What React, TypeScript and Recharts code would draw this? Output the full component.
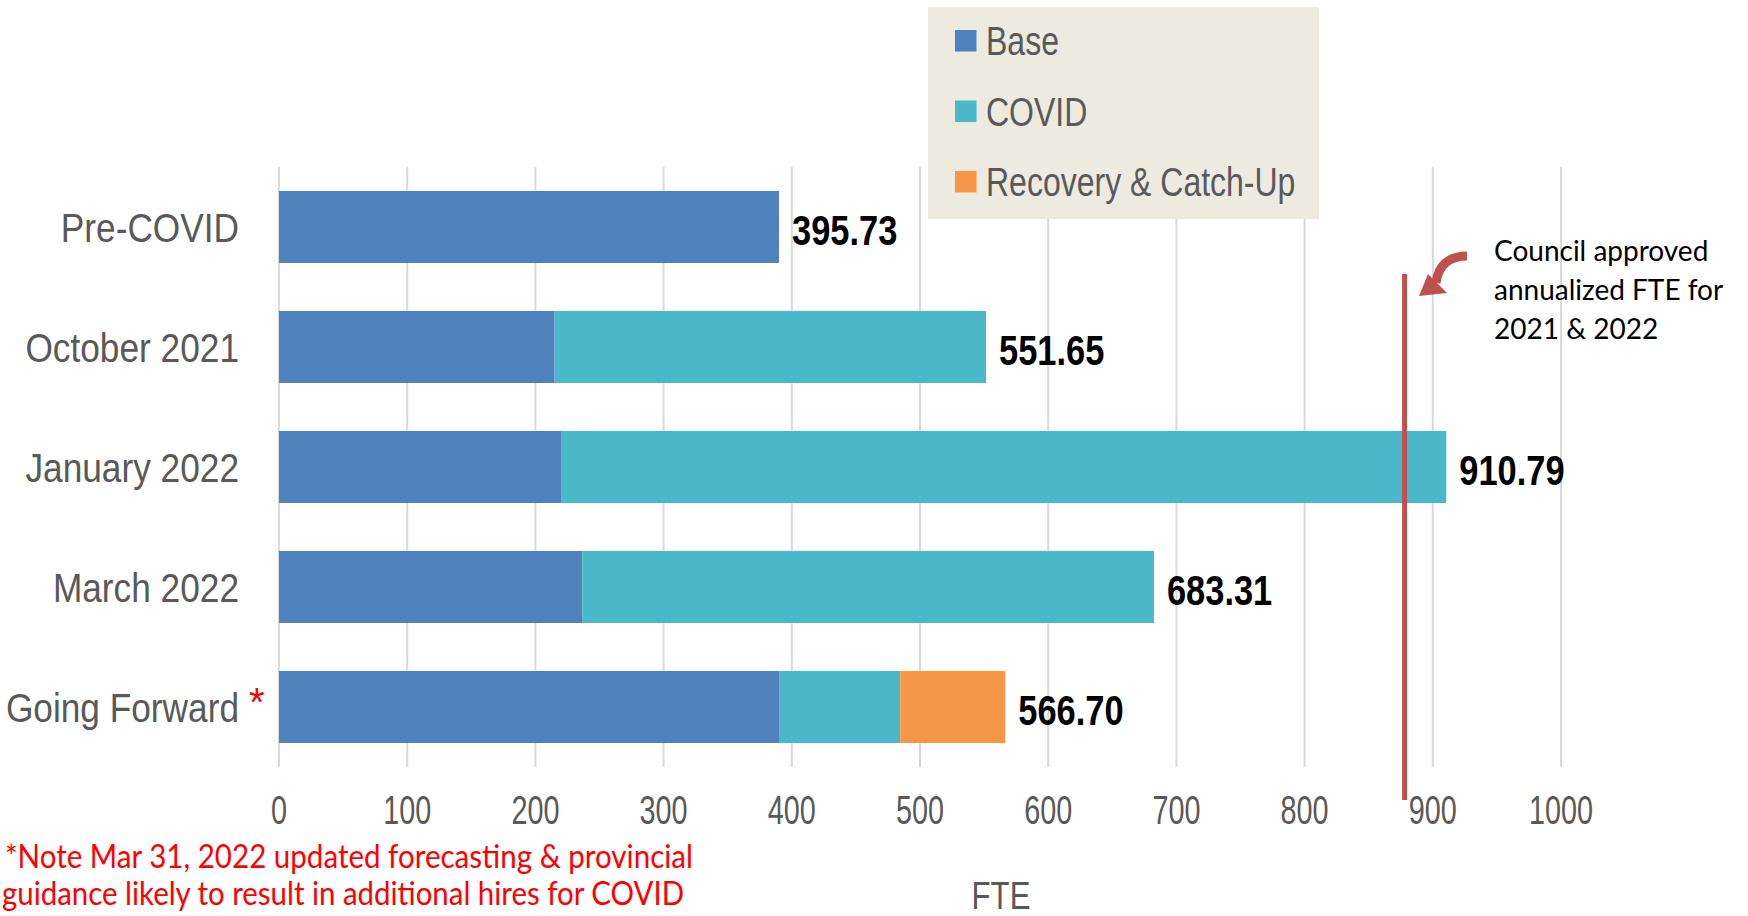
import React from "react";
import { Bar, BarChart, CartesianGrid, LabelList, ReferenceLine, XAxis, YAxis } from "recharts";

const categories = ["Pre-COVID", "October 2021", "January 2022", "March 2022", "Going Forward"];
const baseValues = [390, 215, 220, 236.5, 390];
const covidValues = [0, 336.5, 690.5, 446, 94.5];
const recoveryValues = [0, 0, 0, 0, 82];
const totalLabels = ["395.73", "551.65", "910.79", "683.31", "566.70"];
const xTicks = [0, 100, 200, 300, 400, 500, 600, 700, 800, 900, 1000];
const councilApproved = 878;
const noteLines = [
  "*Note Mar 31, 2022  updated forecasting & provincial",
  "guidance likely to result in additional hires for COVID",
];
const councilLines = ["Council approved", "annualized FTE for", "2021  & 2022"];

const SANS = "'Liberation Sans', Arial, sans-serif";
const CALIBRI = "Lato, 'Open Sans', sans-serif";
const GRAY = "#595959";

const series = [
  { key: "base", name: "Base", color: "#4F81BD" },
  { key: "covid", name: "COVID", color: "#4BB8C9" },
  { key: "recovery", name: "Recovery & Catch-Up", color: "#F79646" },
];

const data = categories.map((c, i) => ({
  name: c,
  base: baseValues[i],
  covid: covidValues[i],
  recovery: recoveryValues[i],
}));

// the series that ends each row carries the total label
const lastKey = data.map((d) => (d.recovery > 0 ? "recovery" : d.covid > 0 ? "covid" : "base"));

function totalLabel(key: string) {
  return (props: any) => {
    const { x, y, width, height, value } = props;
    const i = categories.indexOf(value);
    if (i < 0 || lastKey[i] !== key) return null;
    const tx = Number(x) + Number(width) + 13;
    const ty = Number(y) + Number(height) / 2 + 3 + 15;
    return (
      <text
        transform={`translate(${tx},${ty}) scale(0.82,1)`}
        fontFamily={SANS}
        fontWeight="bold"
        fontSize={42}
        fill="#000"
      >
        {totalLabels[i]}
      </text>
    );
  };
}

function CategoryTick(props: any) {
  const { x, y, payload } = props;
  const starred = payload.value === "Going Forward";
  return (
    <g>
      <text
        transform={`translate(${x},${y + 15}) scale(0.86,1)`}
        textAnchor="end"
        fontFamily={SANS}
        fontSize={41}
        fill={GRAY}
      >
        {payload.value}
      </text>
      {starred && (
        <text x={x + 10} y={y + 9} fontFamily={SANS} fontSize={40} fill="#FF0000">
          *
        </text>
      )}
    </g>
  );
}

function ValueTick(props: any) {
  const { x, y, payload } = props;
  return (
    <text
      transform={`translate(${x},${y + 57}) scale(0.72,1)`}
      textAnchor="middle"
      fontFamily={SANS}
      fontSize={40}
      fill={GRAY}
    >
      {payload.value}
    </text>
  );
}

function CouncilLine(props: any) {
  const x = props.x1;
  return <line x1={x} x2={x} y1={274} y2={800} stroke="#C0504D" strokeWidth={5} />;
}

export default function App() {
  return (
    <div style={{ position: "absolute", left: 0, top: 0, width: 1748, height: 916, background: "#fff" }}>
      <BarChart
        width={1748}
        height={916}
        data={data}
        layout="vertical"
        margin={{ top: 167, right: 187, bottom: 89, left: 0 }}
        barSize={72}
      >
        <CartesianGrid horizontal={false} stroke="#D9D9D9" strokeWidth={2} />
        <XAxis
          type="number"
          domain={[0, 1000]}
          ticks={xTicks}
          axisLine={false}
          tickLine={false}
          tickSize={0}
          tickMargin={0}
          height={60}
          tick={<ValueTick />}
        />
        <YAxis
          type="category"
          dataKey="name"
          width={279}
          axisLine={false}
          tickLine={false}
          tickSize={0}
          tickMargin={40}
          tick={<CategoryTick />}
        />
        {series.map((s) => (
          <Bar key={s.key} dataKey={s.key} name={s.name} stackId="fte" fill={s.color} isAnimationActive={false}>
            <LabelList dataKey="name" content={totalLabel(s.key)} />
          </Bar>
        ))}
        <ReferenceLine x={councilApproved} ifOverflow="visible" shape={<CouncilLine />} />
      </BarChart>
      <svg width={1748} height={916} style={{ position: "absolute", left: 0, top: 0, pointerEvents: "none" }}>
        {/* legend */}
        <rect x={928} y={7} width={391} height={212} fill="#EDEBE0" />
        {series.map((s, i) => (
          <g key={s.key}>
            <rect x={955} y={30 + i * 70.5} width={21.5} height={21.5} fill={s.color} />
            <text
              transform={`translate(${986},${55 + i * 70.5}) scale(0.8,1)`}
              fontFamily={SANS}
              fontSize={40}
              fill={GRAY}
            >
              {s.name}
            </text>
          </g>
        ))}
        {/* council arrow */}
        <path d="M1467,256 C1448,256 1438,266 1436,283" fill="none" stroke="#C0504D" strokeWidth={9} />
        <polygon points="1419,296 1428,274 1447,293" fill="#C0504D" />
        {councilLines.map((t, i) => (
          <text key={t} x={1494} y={261 + i * 39} fontFamily={CALIBRI} fontSize={28} fill="#000">
            {t}
          </text>
        ))}
        {noteLines.map((t, i) => (
          <text
            key={t}
            x={i === 0 ? 5 : 2}
            y={868 + i * 37}
            fontFamily={CALIBRI}
            fontSize={32}
            fill="#FF0000"
            textLength={i === 0 ? 688 : 682}
            lengthAdjust="spacingAndGlyphs"
          >
            {t}
          </text>
        ))}
        <text
          transform="translate(1001,909) scale(0.82,1)"
          textAnchor="middle"
          fontFamily={SANS}
          fontSize={38}
          fill={GRAY}
        >
          FTE
        </text>
      </svg>
    </div>
  );
}
